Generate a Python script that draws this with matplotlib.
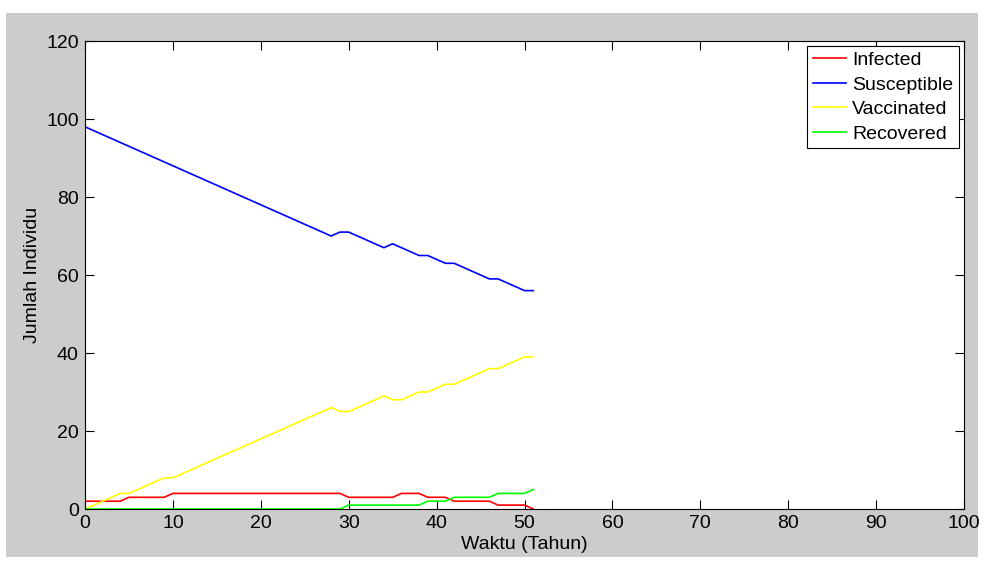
import matplotlib
matplotlib.use("Agg")
import matplotlib.pyplot as plt
from matplotlib.patches import Rectangle

# time steps (years)
waktu = list(range(52))

infected = [2, 2, 2, 2, 2, 3, 3, 3, 3, 3,
            4, 4, 4, 4, 4, 4, 4, 4, 4, 4,
            4, 4, 4, 4, 4, 4, 4, 4, 4, 4,
            3, 3, 3, 3, 3, 3, 4, 4, 4, 3,
            3, 3, 2, 2, 2, 2, 2, 1, 1, 1,
            1, 0]
susceptible = [98, 97, 96, 95, 94, 93, 92, 91, 90, 89,
               88, 87, 86, 85, 84, 83, 82, 81, 80, 79,
               78, 77, 76, 75, 74, 73, 72, 71, 70, 71,
               71, 70, 69, 68, 67, 68, 67, 66, 65, 65,
               64, 63, 63, 62, 61, 60, 59, 59, 58, 57,
               56, 56]
vaccinated = [0, 1, 2, 3, 4, 4, 5, 6, 7, 8,
              8, 9, 10, 11, 12, 13, 14, 15, 16, 17,
              18, 19, 20, 21, 22, 23, 24, 25, 26, 25,
              25, 26, 27, 28, 29, 28, 28, 29, 30, 30,
              31, 32, 32, 33, 34, 35, 36, 36, 37, 38,
              39, 39]
recovered = [0, 0, 0, 0, 0, 0, 0, 0, 0, 0,
             0, 0, 0, 0, 0, 0, 0, 0, 0, 0,
             0, 0, 0, 0, 0, 0, 0, 0, 0, 0,
             1, 1, 1, 1, 1, 1, 1, 1, 1, 2,
             2, 2, 3, 3, 3, 3, 3, 4, 4, 4,
             4, 5]

series = [
    ("Infected", infected, "#ff0000"),
    ("Susceptible", susceptible, "#0000ff"),
    ("Vaccinated", vaccinated, "#ffff00"),
    ("Recovered", recovered, "#00ff00"),
]

plt.rcParams["font.family"] = ["Liberation Sans", "DejaVu Sans"]

fig = plt.figure(figsize=(9.86, 5.63), dpi=100)
fig.patch.set_facecolor("white")
fig.patches.append(Rectangle((6 / 986, 6 / 563), 972 / 986, 544 / 563,
                             transform=fig.transFigure, facecolor="#cccccc",
                             edgecolor="none", zorder=-10))

ax = fig.add_axes([85 / 986, 54 / 563, 879 / 986, 468 / 563])
ax.set_facecolor("white")

for label, values, color in series:
    ax.plot(waktu, values, color=color, linewidth=1.2, label=label)

ax.set_xlim(0, 100)
ax.set_ylim(0, 120)
ax.set_xticks(range(0, 101, 10))
ax.set_yticks(range(0, 121, 20))
ax.tick_params(direction="in", length=6.5, width=0.8, top=True, right=True,
               labelsize=14, pad=4.5, colors="black")
for spine in ax.spines.values():
    spine.set_linewidth(0.8)
    spine.set_color("black")

ax.set_xlabel("Waktu (Tahun)", fontsize=14, labelpad=3)
ax.set_ylabel("Jumlah Individu", fontsize=14, labelpad=4)

legend = ax.legend(loc="upper right", fontsize=14, handlelength=1.7,
                   handletextpad=0.3, labelspacing=0.35, borderpad=0.3,
                   borderaxespad=0.25, fancybox=False, framealpha=1)
legend.get_frame().set_edgecolor("black")
legend.get_frame().set_linewidth(0.8)

fig.savefig("out.png", dpi=100, facecolor=fig.get_facecolor())
